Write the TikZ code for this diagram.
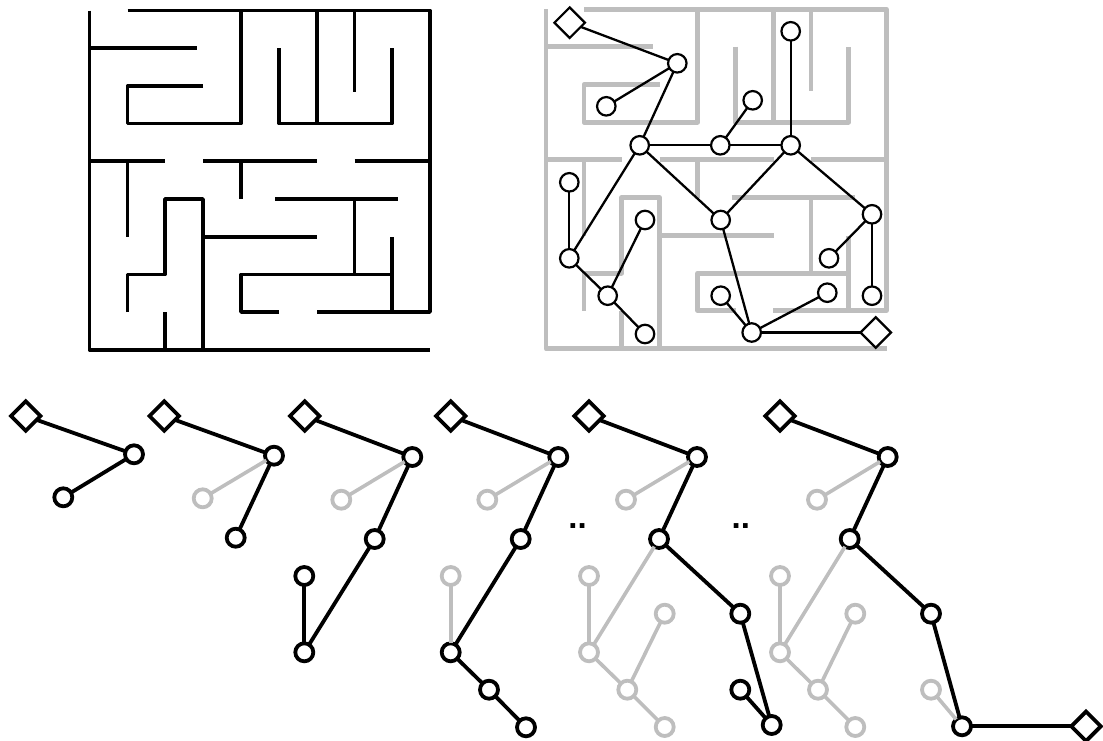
\documentclass[tikz,border=0pt]{standalone}
\usepackage{fontspec}
\setmainfont{Liberation Sans}
\usetikzlibrary{shapes.geometric}
\definecolor{soft}{RGB}{190,190,190}
\tikzset{
  wall/.style={line join=round,line cap=butt},
  thinnode/.style={circle,draw=black,fill=white,line width=2.2pt,minimum size=18.5pt,inner sep=0pt,outer sep=0pt},
  thindia/.style={diamond,draw=black,fill=white,line width=2.2pt,minimum size=30.5pt,inner sep=0pt,outer sep=0pt},
  thinedge/.style={draw=black,line width=2.3pt},
  boldnode/.style={circle,draw=black,fill=white,line width=3.8pt,minimum size=18pt,inner sep=0pt,outer sep=0pt},
  softnode/.style={boldnode,draw=soft},
  bolddia/.style={diamond,draw=black,fill=white,line width=3.8pt,minimum size=29.5pt,inner sep=0pt,outer sep=0pt},
  boldedge/.style={draw=black,line width=3.8pt},
  softedge/.style={draw=soft,line width=3.6pt},
  gapdots/.style={font=\bfseries\fontsize{33pt}{33pt}\selectfont,anchor=base,inner sep=0pt}
}
\newcommand{\mazewalls}{%
  \draw (89.5,10.5) -- (89.5,350) -- (430,350);
  \draw (127.5,10.5) -- (430,10.5) -- (430,312) -- (316.7,312);
  \draw (89.5,48) -- (196.7,48);
  \draw (203,86) -- (127.5,86) -- (127.5,123.5) -- (241,123.5) -- (241,10.5);
  \draw (279,48) -- (279,123.5) -- (392,123.5) -- (392,48);
  \draw (317,10.5) -- (317,123.5);
  \draw (354.5,10.5) -- (354.5,92);
  \draw (89.5,161) -- (165,161);
  \draw (203,161) -- (317,161);
  \draw (354.5,161) -- (430,161);
  \draw (127.5,161) -- (127.5,237);
  \draw (241,161) -- (241,199);
  \draw (275,199) -- (398,199);
  \draw (354.5,199) -- (354.5,274.5);
  \draw (203,237) -- (317,237);
  \draw (127.5,312) -- (127.5,274.5) -- (165,274.5) -- (165,199) -- (203,199) -- (203,350);
  \draw (165,312) -- (165,350);
  \draw (279,312) -- (241,312) -- (241,274.5) -- (392,274.5);
  \draw (392,237) -- (392,312);
}
\begin{document}
\begin{tikzpicture}[x=1pt,y=-1pt]
\useasboundingbox (0,0) rectangle (1103,740);
% mazes
\begin{scope}[wall,line width=3.6pt,draw=black]
  \mazewalls
\end{scope}
\begin{scope}[wall,line width=4.6pt,draw=soft,shift={(456.5,-1.3)}]
  \mazewalls
\end{scope}
% tree over the maze
\node[thindia] (tD) at (569.7,22.7) {};
\node[thindia] (tE) at (875.7,332.5) {};
\node[thinnode] (ta) at (677.3,63.3) {};
\node[thinnode] (tb) at (606.3,106.3) {};
\node[thinnode] (tc) at (639.7,145.3) {};
\node[thinnode] (td) at (720.3,145.3) {};
\node[thinnode] (te) at (752.7,100.3) {};
\node[thinnode] (tf) at (790.7,145.3) {};
\node[thinnode] (tg) at (790.7,31.3) {};
\node[thinnode] (th) at (720.7,220) {};
\node[thinnode] (ti) at (872,214.3) {};
\node[thinnode] (tj) at (829,258.3) {};
\node[thinnode] (tk) at (872,295.7) {};
\node[thinnode] (tl) at (569.3,182.3) {};
\node[thinnode] (tm) at (569.3,258.3) {};
\node[thinnode] (tn) at (607.7,295.7) {};
\node[thinnode] (to) at (645,220) {};
\node[thinnode] (tp) at (645,334) {};
\node[thinnode] (tq) at (751.7,332.5) {};
\node[thinnode] (tr) at (720.7,295.7) {};
\node[thinnode] (ts) at (827.3,292.7) {};
\foreach \u/\v in {tD/ta,ta/tb,ta/tc,tc/td,td/te,td/tf,tf/tg,tc/th,tf/th,tf/ti,ti/tj,ti/tk,tc/tm,tm/tl,tm/tn,tn/to,tn/tp,th/tq,tq/tr,tq/ts,tq/tE}
  \draw[thinedge] (\u) -- (\v);
% panel 1
\node[bolddia] (aD) at (25.7,416) {};
\node[boldnode] (aa) at (134,454.3) {};
\node[boldnode] (ab) at (63.3,497.3) {};
\foreach \u/\v in {aD/aa,aa/ab} \draw[boldedge] (\u) -- (\v);
% panel 2
\node[bolddia] (bD) at (164.3,416) {};
\node[boldnode] (ba) at (274,455.7) {};
\node[softnode] (bb) at (202.7,498.3) {};
\node[boldnode] (bc) at (235.7,537.7) {};
\draw[softedge] (ba) -- (bb);
\foreach \u/\v in {bD/ba,ba/bc} \draw[boldedge] (\u) -- (\v);
% panel 3
\node[bolddia] (cD) at (304.7,416) {};
\node[boldnode] (ca) at (412.3,457) {};
\node[softnode] (cb) at (341.3,499.7) {};
\node[boldnode] (cc) at (374.7,539) {};
\node[boldnode] (cl) at (304.3,576) {};
\node[boldnode] (cm) at (304.3,652.3) {};
\draw[softedge] (ca) -- (cb);
\foreach \u/\v in {cD/ca,ca/cc,cc/cm,cm/cl} \draw[boldedge] (\u) -- (\v);
% panel 4
\node[bolddia] (dD) at (450.7,416) {};
\node[boldnode] (da) at (558.3,457) {};
\node[softnode] (db) at (487.3,499.7) {};
\node[boldnode] (dc) at (520.7,539) {};
\node[softnode] (dl) at (450.7,576) {};
\node[boldnode] (dm) at (450.7,652.3) {};
\node[boldnode] (dn) at (489,689.7) {};
\node[boldnode] (dp) at (526,727.3) {};
\foreach \u/\v in {da/db,dm/dl} \draw[softedge] (\u) -- (\v);
\foreach \u/\v in {dD/da,da/dc,dc/dm,dm/dn,dn/dp} \draw[boldedge] (\u) -- (\v);
% panel 5
\node[bolddia] (eD) at (589,416) {};
\node[boldnode] (ea) at (697,457) {};
\node[softnode] (eb) at (626,499.7) {};
\node[boldnode] (ec) at (659,539) {};
\node[boldnode] (eh) at (740.3,613.7) {};
\node[boldnode] (eq) at (771.7,725) {};
\node[boldnode] (er) at (740.3,689.7) {};
\node[softnode] (el) at (589,576) {};
\node[softnode] (em) at (589,652.3) {};
\node[softnode] (en) at (627.3,689.7) {};
\node[softnode] (eo) at (664.7,613.7) {};
\node[softnode] (ep) at (664.7,727) {};
\foreach \u/\v in {ea/eb,ec/em,em/el,em/en,en/eo,en/ep} \draw[softedge] (\u) -- (\v);
\foreach \u/\v in {eD/ea,ea/ec,ec/eh,eh/eq,eq/er} \draw[boldedge] (\u) -- (\v);
% panel 6
\node[bolddia] (fD) at (780,416) {};
\node[bolddia] (fE) at (1086,726.3) {};
\node[boldnode] (fa) at (887.7,457) {};
\node[softnode] (fb) at (817,499.7) {};
\node[boldnode] (fc) at (849.7,539) {};
\node[boldnode] (fh) at (931,613.7) {};
\node[boldnode] (fq) at (962,726.3) {};
\node[softnode] (fr) at (931,689.7) {};
\node[softnode] (fl) at (780,576) {};
\node[softnode] (fm) at (780,652.3) {};
\node[softnode] (fn) at (818,689.7) {};
\node[softnode] (fo) at (855.3,613.7) {};
\node[softnode] (fp) at (855.3,727) {};
\foreach \u/\v in {fa/fb,fc/fm,fm/fl,fm/fn,fn/fo,fn/fp,fq/fr} \draw[softedge] (\u) -- (\v);
\foreach \u/\v in {fD/fa,fa/fc,fc/fh,fh/fq,fq/fE} \draw[boldedge] (\u) -- (\v);
% gaps
\node[gapdots] (gapa) at (577.5,528.5) {..};
\node[gapdots] (gapb) at (740.8,528.5) {..};
\end{tikzpicture}
\end{document}
